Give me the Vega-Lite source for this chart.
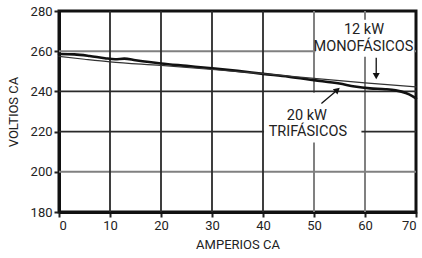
{
  "$schema": "https://vega.github.io/schema/vega-lite/v6.json",
  "width": 357,
  "height": 201,
  "autosize": {"type": "none"},
  "padding": {"left": 59, "top": 11, "right": 6, "bottom": 46},
  "background": "white",
  "config": {
    "font": "Roboto",
    "view": {"stroke": "#111", "strokeWidth": 3},
    "axis": {
      "labelFont": "Roboto",
      "titleFont": "Roboto",
      "labelFontSize": 13,
      "titleFontSize": 13,
      "titleFontWeight": "normal",
      "labelColor": "#222",
      "titleColor": "#222",
      "domainColor": "#111",
      "domainWidth": 3,
      "ticks": true,
      "tickOpacity": 1,
      "tickColor": "#222",
      "tickWidth": 2,
      "tickSize": 5
    }
  },
  "datasets": {
    "curves": [
      {"series": "20 kW trifásicos", "amps": 0, "volts": 258.6},
      {"series": "20 kW trifásicos", "amps": 3, "volts": 258.4},
      {"series": "20 kW trifásicos", "amps": 6, "volts": 257.6},
      {"series": "20 kW trifásicos", "amps": 9, "volts": 256.5},
      {"series": "20 kW trifásicos", "amps": 11, "volts": 256.0},
      {"series": "20 kW trifásicos", "amps": 12.8, "volts": 256.3},
      {"series": "20 kW trifásicos", "amps": 15, "volts": 255.5},
      {"series": "20 kW trifásicos", "amps": 20, "volts": 253.9},
      {"series": "20 kW trifásicos", "amps": 25, "volts": 252.7},
      {"series": "20 kW trifásicos", "amps": 30, "volts": 251.5},
      {"series": "20 kW trifásicos", "amps": 35, "volts": 250.2},
      {"series": "20 kW trifásicos", "amps": 40, "volts": 248.7},
      {"series": "20 kW trifásicos", "amps": 45, "volts": 247.3},
      {"series": "20 kW trifásicos", "amps": 50, "volts": 245.6},
      {"series": "20 kW trifásicos", "amps": 55, "volts": 243.9},
      {"series": "20 kW trifásicos", "amps": 58, "volts": 242.4},
      {"series": "20 kW trifásicos", "amps": 61, "volts": 241.5},
      {"series": "20 kW trifásicos", "amps": 64, "volts": 241.1},
      {"series": "20 kW trifásicos", "amps": 66, "volts": 240.5},
      {"series": "20 kW trifásicos", "amps": 68, "volts": 239.2},
      {"series": "20 kW trifásicos", "amps": 69.2, "volts": 237.8},
      {"series": "20 kW trifásicos", "amps": 70, "volts": 236.5},
      {"series": "12 kW monofásicos", "amps": 0, "volts": 257.4},
      {"series": "12 kW monofásicos", "amps": 5, "volts": 256.0},
      {"series": "12 kW monofásicos", "amps": 10, "volts": 254.7},
      {"series": "12 kW monofásicos", "amps": 20, "volts": 252.9},
      {"series": "12 kW monofásicos", "amps": 30, "volts": 250.9},
      {"series": "12 kW monofásicos", "amps": 40, "volts": 248.8},
      {"series": "12 kW monofásicos", "amps": 50, "volts": 246.5},
      {"series": "12 kW monofásicos", "amps": 60, "volts": 244.2},
      {"series": "12 kW monofásicos", "amps": 70, "volts": 242.3}
    ],
    "gridDark": [
      {"gid": "x10", "amps": 10, "volts": 180}, {"gid": "x10", "amps": 10, "volts": 280},
      {"gid": "x20", "amps": 20, "volts": 180}, {"gid": "x20", "amps": 20, "volts": 280},
      {"gid": "x30", "amps": 30, "volts": 180}, {"gid": "x30", "amps": 30, "volts": 280},
      {"gid": "x40", "amps": 40, "volts": 180}, {"gid": "x40", "amps": 40, "volts": 280},
      {"gid": "y220", "amps": 0, "volts": 220}, {"gid": "y220", "amps": 70, "volts": 220},
      {"gid": "y240", "amps": 0, "volts": 240}, {"gid": "y240", "amps": 70, "volts": 240}
    ],
    "gridGray": [
      {"gid": "x50", "amps": 50, "volts": 180}, {"gid": "x50", "amps": 50, "volts": 280},
      {"gid": "x60", "amps": 60, "volts": 180}, {"gid": "x60", "amps": 60, "volts": 280},
      {"gid": "y200", "amps": 0, "volts": 200}, {"gid": "y200", "amps": 70, "volts": 200},
      {"gid": "y260", "amps": 0, "volts": 260}, {"gid": "y260", "amps": 70, "volts": 260}
    ],
    "boxes": [
      {"x1": 50.3, "x2": 69.6, "y1": 257.3, "y2": 275.7},
      {"x1": 40.2, "x2": 59.3, "y1": 214.6, "y2": 239.3}
    ],
    "labels": [
      {"text": "12 kW", "amps": 59.8, "volts": 270.6},
      {"text": "MONOFÁSICOS", "amps": 59.7, "volts": 262.3},
      {"text": "20 kW", "amps": 48.6, "volts": 228.0},
      {"text": "TRIFÁSICOS", "amps": 48.8, "volts": 219.9}
    ],
    "arrowLines": [
      {"x1": 62.2, "y1": 256.8, "x2": 62.2, "y2": 248.5},
      {"x1": 51.45, "y1": 234.0, "x2": 54.4, "y2": 240.3}
    ]
  },
  "layer": [
    {
      "data": {"name": "gridGray"},
      "mark": {"type": "line", "color": "#808080", "strokeWidth": 2, "strokeCap": "butt"},
      "encoding": {
        "x": {
          "field": "amps", "type": "quantitative",
          "scale": {"domain": [0, 70], "nice": false, "zero": false},
          "axis": {
            "title": "AMPERIOS CA",
            "values": [0, 5, 10, 15, 20, 25, 30, 35, 40, 45, 50, 55, 60, 65, 70],
            "labelPadding": 2,
            "titlePadding": 6,
            "grid": false,
            "labelExpr": "datum.value % 10 == 0 ? datum.label : ''"
          }
        },
        "y": {
          "field": "volts", "type": "quantitative",
          "scale": {"domain": [180, 280], "nice": false, "zero": false},
          "axis": {
            "title": "VOLTIOS CA",
            "values": [180, 185, 190, 195, 200, 205, 210, 215, 220, 225, 230, 235, 240, 245, 250, 255, 260, 265, 270, 275, 280],
            "labelPadding": 2,
            "titlePadding": 10,
            "grid": false,
            "labelExpr": "datum.value % 20 == 0 ? datum.label : ''"
          }
        },
        "detail": {"field": "gid"},
        "order": {"field": "volts"}
      }
    },
    {
      "data": {"name": "gridDark"},
      "mark": {"type": "line", "color": "#2a2a2a", "strokeWidth": 1.8, "strokeCap": "butt"},
      "encoding": {
        "x": {"field": "amps", "type": "quantitative"},
        "y": {"field": "volts", "type": "quantitative"},
        "detail": {"field": "gid"},
        "order": {"field": "volts"}
      }
    },
    {
      "data": {"name": "boxes"},
      "mark": {"type": "rect", "fill": "white"},
      "encoding": {
        "x": {"field": "x1", "type": "quantitative"},
        "x2": {"field": "x2"},
        "y": {"field": "y1", "type": "quantitative"},
        "y2": {"field": "y2"}
      }
    },
    {
      "data": {"name": "curves"},
      "mark": {"type": "line", "strokeCap": "round", "strokeJoin": "round", "interpolate": "monotone"},
      "encoding": {
        "x": {"field": "amps", "type": "quantitative"},
        "y": {"field": "volts", "type": "quantitative"},
        "detail": {"field": "series"},
        "color": {"field": "series", "type": "nominal", "scale": {"domain": ["20 kW trifásicos", "12 kW monofásicos"], "range": ["#111111", "#333333"]}, "legend": null},
        "strokeWidth": {"field": "series", "type": "nominal", "scale": {"domain": ["20 kW trifásicos", "12 kW monofásicos"], "range": [2.6, 1.2]}, "legend": null}
      }
    },
    {
      "data": {"name": "arrowLines"},
      "mark": {"type": "rule", "color": "#111", "strokeWidth": 1.3},
      "encoding": {
        "x": {"field": "x1", "type": "quantitative"},
        "y": {"field": "y1", "type": "quantitative"},
        "x2": {"field": "x2"},
        "y2": {"field": "y2"}
      }
    },
    {
      "data": {"values": [{"amps": 62.2, "volts": 247.6}]},
      "mark": {"type": "point", "shape": "triangle-down", "filled": true, "size": 50, "color": "#111", "opacity": 1},
      "encoding": {
        "x": {"field": "amps", "type": "quantitative"},
        "y": {"field": "volts", "type": "quantitative"}
      }
    },
    {
      "data": {"values": [{"amps": 54.6, "volts": 240.8}]},
      "mark": {"type": "point", "shape": "triangle-up", "filled": true, "size": 50, "angle": 49, "color": "#111", "opacity": 1},
      "encoding": {
        "x": {"field": "amps", "type": "quantitative"},
        "y": {"field": "volts", "type": "quantitative"}
      }
    },
    {
      "data": {"name": "labels"},
      "mark": {"type": "text", "font": "Roboto", "fontSize": 14.5, "color": "#222", "align": "center", "baseline": "middle"},
      "encoding": {
        "x": {"field": "amps", "type": "quantitative"},
        "y": {"field": "volts", "type": "quantitative"},
        "text": {"field": "text"}
      }
    }
  ]
}
